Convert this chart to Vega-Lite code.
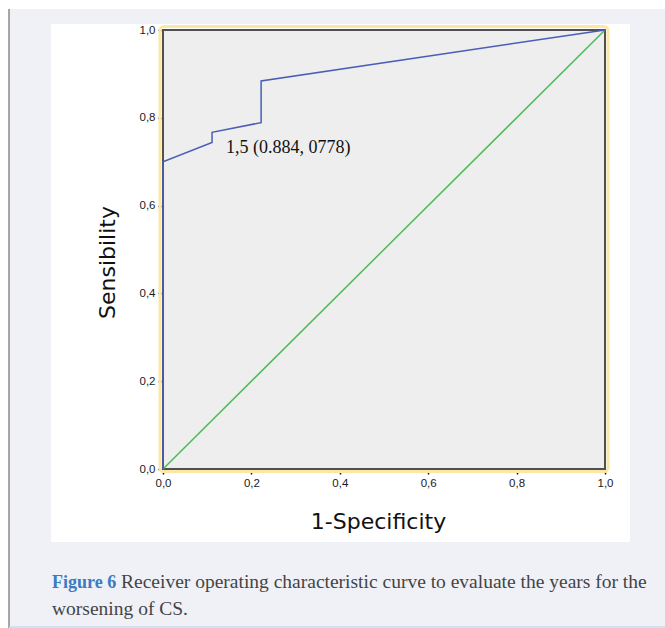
{
  "$schema": "https://vega.github.io/schema/vega-lite/v6.json",
  "width": 442,
  "height": 439,
  "autosize": {"type": "none"},
  "padding": {"left": 163, "top": 30, "right": 60, "bottom": 159},
  "background": "#ffffff",
  "config": {
    "view": {"stroke": null},
    "axis": {
      "tickCount": 5,
      "labelExpr": "replace(format(datum.value, '.1f'), '.', ',')",
      "labelFlush": false, "labelOverlap": false,
      "domain": false, "grid": false, "zindex": 1,
      "tickColor": "#111111", "tickDash": [2, 1], "tickWidth": 1.5,
      "labelFont": "Liberation Sans", "labelFontSize": 11.5, "labelColor": "#1a1a1a",
      "titleFont": "DejaVu Sans", "titleFontSize": 22, "titleFontWeight": "normal", "titleColor": "#111111"
    },
    "axisX": {"tickSize": 5, "labelPadding": 3, "titlePadding": 23, "titleX": 215},
    "axisY": {"tickSize": 6, "labelPadding": 2, "titlePadding": 20, "titleY": 232}
  },
  "datasets": {
    "roc": [
      {"i": 0, "fpr": 0.0, "tpr": 0.0},
      {"i": 1, "fpr": 0.0, "tpr": 0.7},
      {"i": 2, "fpr": 0.111, "tpr": 0.744},
      {"i": 3, "fpr": 0.111, "tpr": 0.767},
      {"i": 4, "fpr": 0.222, "tpr": 0.789},
      {"i": 5, "fpr": 0.222, "tpr": 0.884},
      {"i": 6, "fpr": 1.0, "tpr": 1.0}
    ],
    "ref": [
      {"i": 0, "fpr": 0.0, "tpr": 0.0},
      {"i": 1, "fpr": 1.0, "tpr": 1.0}
    ],
    "note": [{"fpr": 0.1425, "tpr": 0.7198, "label": "1,5 (0.884, 0778)"}],
    "figlabel": [{"fpr": -0.2511, "tpr": -0.2711, "label": "Figure 6"}],
    "caption": [
      {"fpr": -0.095, "tpr": -0.2711, "label": "Receiver operating characteristic curve to evaluate the years for the"},
      {"fpr": -0.2511, "tpr": -0.3326, "label": "worsening of CS."}
    ]
  },
  "layer": [
    {
      "data": {"values": [{}]},
      "mark": {"type": "rect", "fill": "#f0f1f7"},
      "encoding": {
        "x": {"datum": -0.3484, "type": "quantitative", "title": "1-Specificity", "scale": {"domain": [0, 1], "nice": false, "zero": false}},
        "x2": {"datum": 1.14},
        "y": {"datum": 1.0478, "type": "quantitative", "title": "Sensibility", "scale": {"domain": [0, 1], "nice": false, "zero": false}},
        "y2": {"datum": 1.0137}
      }
    },
    {
      "data": {"values": [{}]},
      "mark": {"type": "rect", "fill": "#f0f1f7"},
      "encoding": {
        "x": {"datum": -0.3484, "type": "quantitative", "title": "1-Specificity"},
        "x2": {"datum": -0.2534},
        "y": {"datum": 1.0478, "type": "quantitative", "title": "Sensibility"},
        "y2": {"datum": -0.37}
      }
    },
    {
      "data": {"values": [{}]},
      "mark": {"type": "rect", "fill": "#f0f1f7"},
      "encoding": {
        "x": {"datum": 1.0566, "type": "quantitative", "title": "1-Specificity"},
        "x2": {"datum": 1.14},
        "y": {"datum": 1.0478, "type": "quantitative", "title": "Sensibility"},
        "y2": {"datum": -0.37}
      }
    },
    {
      "data": {"values": [{}]},
      "mark": {"type": "rect", "fill": "#f0f1f7"},
      "encoding": {
        "x": {"datum": -0.3484, "type": "quantitative", "title": "1-Specificity"},
        "x2": {"datum": 1.14},
        "y": {"datum": -0.1663, "type": "quantitative", "title": "Sensibility"},
        "y2": {"datum": -0.37}
      }
    },
    {
      "data": {"values": [{}]},
      "mark": {"type": "rule", "color": "#8a8a8a", "strokeWidth": 1.5},
      "encoding": {
        "x": {"datum": -0.3484, "type": "quantitative", "title": "1-Specificity"},
        "y": {"datum": 1.0478, "type": "quantitative", "title": "Sensibility"},
        "y2": {"datum": -0.37}
      }
    },
    {
      "data": {"values": [{}]},
      "mark": {"type": "rule", "color": "#c8dbee", "strokeWidth": 1.5},
      "encoding": {
        "x": {"datum": -0.3484, "type": "quantitative", "title": "1-Specificity"},
        "x2": {"datum": 1.14},
        "y": {"datum": -0.3599, "type": "quantitative", "title": "Sensibility"}
      }
    },
    {
      "data": {"values": [{}]},
      "mark": {"type": "rect", "fill": null, "stroke": "#fde7a4", "strokeWidth": 3, "cornerRadius": 4},
      "encoding": {
        "x": {"datum": -0.0068, "type": "quantitative", "title": "1-Specificity"},
        "x2": {"datum": 1.0068},
        "y": {"datum": 1.008, "type": "quantitative", "title": "Sensibility"},
        "y2": {"datum": -0.0057}
      }
    },
    {
      "data": {"values": [{}]},
      "mark": {"type": "rect", "fill": "#eeeeee", "stroke": "#505050", "strokeWidth": 2},
      "encoding": {
        "x": {"datum": 0, "type": "quantitative", "title": "1-Specificity"},
        "x2": {"datum": 1},
        "y": {"datum": 0, "type": "quantitative", "title": "Sensibility"},
        "y2": {"datum": 1}
      }
    },
    {
      "data": {"name": "ref"},
      "mark": {"type": "line", "color": "#4dbb5a", "strokeWidth": 1.5},
      "encoding": {
        "x": {"field": "fpr", "type": "quantitative", "title": "1-Specificity"},
        "y": {"field": "tpr", "type": "quantitative", "title": "Sensibility"},
        "order": {"field": "i"}
      }
    },
    {
      "data": {"name": "roc"},
      "mark": {"type": "line", "color": "#4a5db8", "strokeWidth": 1.5},
      "encoding": {
        "x": {"field": "fpr", "type": "quantitative", "title": "1-Specificity"},
        "y": {"field": "tpr", "type": "quantitative", "title": "Sensibility"},
        "order": {"field": "i"}
      }
    },
    {
      "data": {"name": "note"},
      "mark": {"type": "text", "font": "Liberation Serif", "fontSize": 18, "align": "left", "baseline": "alphabetic", "color": "#111111"},
      "encoding": {
        "x": {"field": "fpr", "type": "quantitative", "title": "1-Specificity"},
        "y": {"field": "tpr", "type": "quantitative", "title": "Sensibility"},
        "text": {"field": "label"}
      }
    },
    {
      "data": {"name": "figlabel"},
      "mark": {"type": "text", "font": "Liberation Serif", "fontSize": 18, "fontWeight": "bold", "align": "left", "baseline": "alphabetic", "color": "#3a7cc2"},
      "encoding": {
        "x": {"field": "fpr", "type": "quantitative", "title": "1-Specificity"},
        "y": {"field": "tpr", "type": "quantitative", "title": "Sensibility"},
        "text": {"field": "label"}
      }
    },
    {
      "data": {"name": "caption"},
      "mark": {"type": "text", "font": "Liberation Serif", "fontSize": 19.5, "align": "left", "baseline": "alphabetic", "color": "#444444"},
      "encoding": {
        "x": {"field": "fpr", "type": "quantitative", "title": "1-Specificity"},
        "y": {"field": "tpr", "type": "quantitative", "title": "Sensibility"},
        "text": {"field": "label"}
      }
    }
  ]
}
